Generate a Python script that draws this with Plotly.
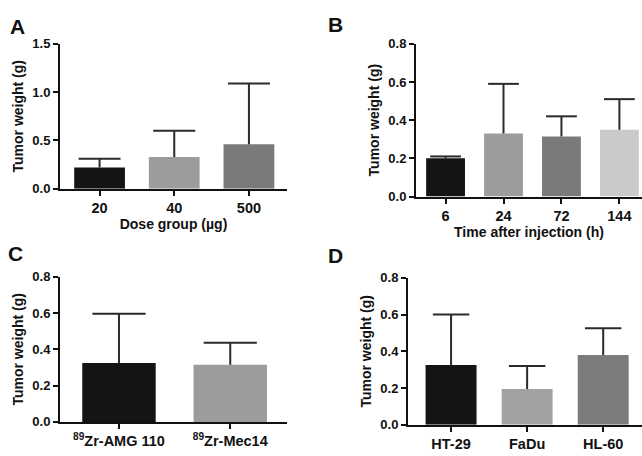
import plotly.graph_objects as go

# ---- data ----
a_cats = ["20", "40", "500"]
a_vals = [0.22, 0.33, 0.46]
a_err_top = [0.31, 0.60, 1.09]

b_cats = ["6", "24", "72", "144"]
b_vals = [0.20, 0.33, 0.315, 0.35]
b_err_top = [0.21, 0.59, 0.42, 0.51]

c_cats = ["<sup>89</sup>Zr-AMG 110", "<sup>89</sup>Zr-Mec14"]
c_vals = [0.325, 0.315]
c_err_top = [0.597, 0.437]

d_cats = ["HT-29", "FaDu", "HL-60"]
d_vals = [0.326, 0.195, 0.38]
d_err_top = [0.60, 0.32, 0.526]

a_colors = ["#141414", "#9c9c9c", "#7a7a7a"]
b_colors = ["#141414", "#9c9c9c", "#7a7a7a", "#cacaca"]
c_colors = ["#141414", "#9c9c9c"]
d_colors = ["#141414", "#a2a2a2", "#7c7c7c"]

W, H = 642, 456
FONT = "Liberation Sans, Arial, sans-serif"
INK = "#111111"
ERR = "#2a2a2a"

fig = go.Figure()

panels = [
    # cats, vals, err, colors, axis index, x px span, y px (zero, top), yrange, dtick, xrange, bar width, cap px, xtitle
    (a_cats, a_vals, a_err_top, a_colors, 1, (60, 287), (188, 38), [0, 1.5], 0.5, [-0.53, 2.51], 0.68, 30, "Dose group (µg)"),
    (b_cats, b_vals, b_err_top, b_colors, 2, (416, 642), (196, 38), [0, 0.8], 0.2, [-0.51, 3.39], 0.67, 22, "Time after injection (h)"),
    (c_cats, c_vals, c_err_top, c_colors, 3, (60, 287), (429, 279), [0, 0.8], 0.2, [-0.53, 1.51], 0.66, 38, None),
    (d_cats, d_vals, d_err_top, d_colors, 4, (408, 642), (432, 280), [0, 0.8], 0.2, [-0.566, 2.51], 0.67, 26, None),
]

layout = dict(
    width=W, height=H,
    margin=dict(l=0, r=0, t=0, b=0),
    paper_bgcolor="white", plot_bgcolor="white",
    showlegend=False,
    font=dict(family=FONT, color=INK, size=12),
)

for (cats, vals, errs, cols, k, xpx, ypx, yrange, dtick, xrange, bw, cap, xtitle) in panels:
    xr = "x" if k == 1 else f"x{k}"
    yr = "y" if k == 1 else f"y{k}"
    xs = list(range(len(cats)))
    fig.add_trace(go.Bar(
        x=xs, y=vals, width=bw,
        marker=dict(color=cols, line=dict(width=0)),
        error_y=dict(type="data", symmetric=False,
                     array=[e - v for e, v in zip(errs, vals)],
                     arrayminus=[0] * len(vals),
                     color=ERR, thickness=2, width=0),
        xaxis=xr, yaxis=yr, hoverinfo="skip",
    ))
    # caps at the top of the error bars
    fig.add_trace(go.Scatter(
        x=xs, y=errs, mode="markers",
        marker=dict(symbol="line-ew", size=cap, line=dict(color=ERR, width=2), color=ERR),
        xaxis=xr, yaxis=yr, hoverinfo="skip", cliponaxis=False,
    ))
    xname = "xaxis" if k == 1 else f"xaxis{k}"
    yname = "yaxis" if k == 1 else f"yaxis{k}"
    xd = [xpx[0] / W, min(xpx[1] / W, 1.0)]
    yd = [1 - ypx[0] / H, 1 - ypx[1] / H]
    layout[xname] = dict(
        domain=xd, range=xrange, anchor=yr,
        tickmode="array", tickvals=xs, ticktext=cats,
        showline=True, linecolor=INK, linewidth=2,
        ticks="outside", ticklen=5, tickwidth=1.5, tickcolor=INK,
        showgrid=False, zeroline=False,
        tickfont=dict(family=FONT, size=14.5, weight="bold", color=INK),
        title=dict(text=xtitle, font=dict(family=FONT, size=14, weight="bold", color=INK), standoff=3) if xtitle else None,
    )
    layout[yname] = dict(
        domain=yd, range=yrange, anchor=xr,
        dtick=dtick, tickformat=".1f",
        showline=True, linecolor=INK, linewidth=2,
        ticks="outside", ticklen=5, tickwidth=1.5, tickcolor=INK,
        showgrid=False, zeroline=False,
        tickfont=dict(family=FONT, size=13, weight="bold", color=INK),
        title=dict(text="Tumor weight (g)", font=dict(family=FONT, size=14, weight="bold", color=INK), standoff=5),
    )

fig.update_layout(**layout)

letters = [("A", 17, 20), ("B", 335, 18), ("C", 15, 255), ("D", 335, 257)]
for t, x, y in letters:
    fig.add_annotation(text=f"<b>{t}</b>", x=x / W, y=1 - y / H, xref="paper", yref="paper",
                       showarrow=False, font=dict(family=FONT, size=21, color=INK),
                       xanchor="center", yanchor="middle")

fig.write_html("out.html",
               config={"displayModeBar": False},
               post_script="document.body.style.margin='0';document.body.style.overflow='hidden';")
